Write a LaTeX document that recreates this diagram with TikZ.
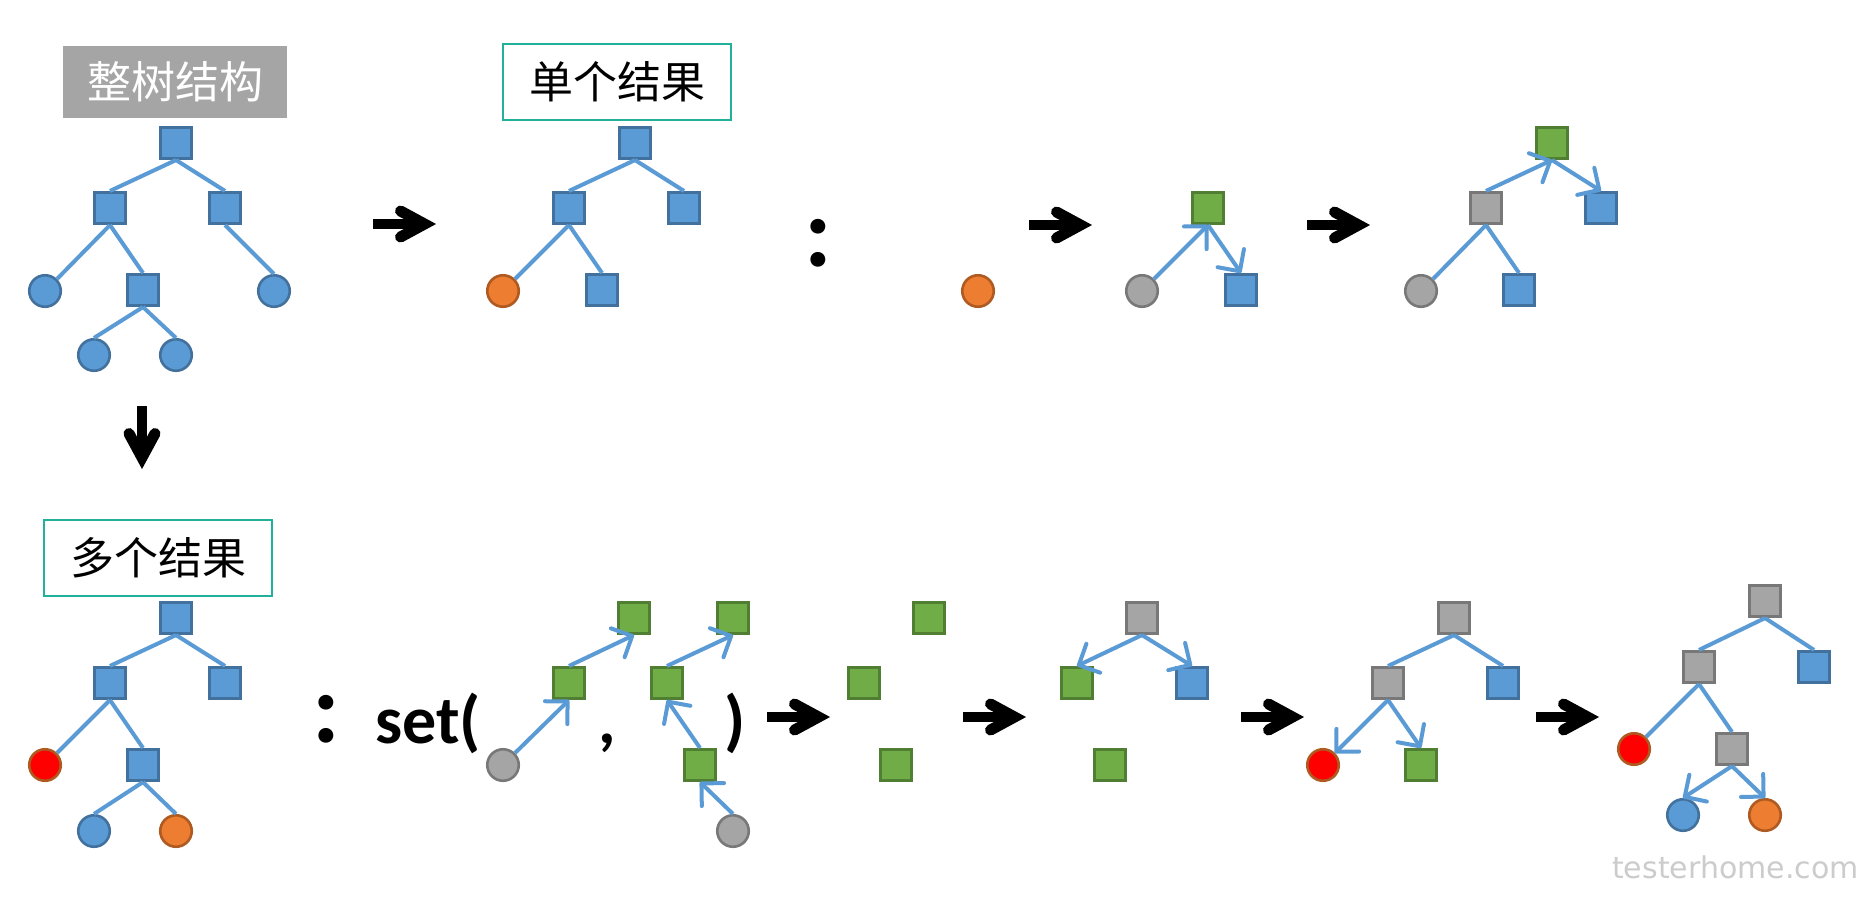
\documentclass[tikz,border=0pt]{standalone}
\usepackage{fontspec}
\newfontfamily\cjk{Noto Sans CJK SC}
\newfontfamily\carlito{Carlito}
\newfontfamily\wmfont{DejaVu Sans}
\usetikzlibrary{arrows.meta}
\definecolor{cBlue}{HTML}{5B9BD5}
\definecolor{cBlueD}{HTML}{41719C}
\definecolor{cGreen}{HTML}{70AD47}
\definecolor{cGreenD}{HTML}{507E32}
\definecolor{cGray}{HTML}{A5A5A5}
\definecolor{cGrayD}{HTML}{787878}
\definecolor{cOrange}{HTML}{ED7D31}
\definecolor{cOrangeD}{HTML}{AE5A21}
\definecolor{cRed}{HTML}{FF0000}
\definecolor{cLine}{HTML}{5B9BD5}
\definecolor{cLab}{HTML}{A5A5A5}
\definecolor{cTeal}{HTML}{21B19B}
\definecolor{cWm}{HTML}{CCCCCC}
\begin{document}
\begin{tikzpicture}[x=1pt,y=-1pt,
  sq/.style={draw, rectangle, minimum size=31.5pt, inner sep=0pt, line width=2.6pt},
  ci/.style={draw, circle, minimum size=31.5pt, inner sep=0pt, line width=2.6pt},
  bn/.style={fill=cBlue, draw=cBlueD},
  gn/.style={fill=cGreen, draw=cGreenD},
  yn/.style={fill=cGray, draw=cGrayD},
  on/.style={fill=cOrange, draw=cOrangeD},
  rn/.style={fill=cRed, draw=cOrangeD},
  lnk/.style={draw=cLine, line width=4pt},
  dlnk/.style={lnk, -{Straight Barb[length=16pt,width=32pt,round]}},
  labbox/.style={minimum width=228pt, minimum height=76pt, inner sep=0pt, font=\cjk\fontsize{44}{44}\selectfont},
  bigarr/.pic={
    \fill (-64,-5) rectangle (-16,5);
    \draw[line width=11pt, line cap=round, line join=miter, miter limit=10] (-36.5,-13) -- (-12.5,0) -- (-36.5,13);
  },
  colon/.style={font=\carlito\bfseries\fontsize{100}{100}\selectfont, inner sep=0pt, anchor=base},
  settext/.style={font=\carlito\bfseries\fontsize{68}{68}\selectfont, inner sep=0pt, anchor=base}
]
\useasboundingbox (0,0) rectangle (1866,906);
\fill[white] (0,0) rectangle (1866,906);

% ---------- labels ----------
\node[labbox, fill=cLab, text=white, minimum width=224pt, minimum height=72pt] (lab1) at (175,82) {整树结构};
\node[labbox, draw=cTeal, line width=2pt] (lab2) at (617,82) {单个结果};
\node[labbox, draw=cTeal, line width=2pt] (lab3) at (158,557.5) {多个结果};

% ---------- panel 1: whole tree ----------
\node[sq,bn] (t1a) at (176,143) {};
\node[sq,bn] (t1b) at (110,208) {};
\node[sq,bn] (t1c) at (225,208) {};
\node[ci,bn] (t1d) at (45,291) {};
\node[sq,bn] (t1e) at (143,290) {};
\node[ci,bn] (t1f) at (274,291) {};
\node[ci,bn] (t1g) at (94,355) {};
\node[ci,bn] (t1h) at (176,355) {};
\draw[lnk] (t1a.south) -- (t1b.north);
\draw[lnk] (t1a.south) -- (t1c.north);
\draw[lnk] (t1b.south) -- (t1d.north east);
\draw[lnk] (t1b.south) -- (t1e.north);
\draw[lnk] (t1c.south) -- (t1f.north);
\draw[lnk] (t1e.south) -- (t1g.north);
\draw[lnk] (t1e.south) -- (t1h.north);

% ---------- panel 2: single result ----------
\node[sq,bn] (t2a) at (635,143) {};
\node[sq,bn] (t2b) at (569,208) {};
\node[sq,bn] (t2c) at (684,208) {};
\node[ci,on] (t2d) at (503,291) {};
\node[sq,bn] (t2e) at (602,290) {};
\draw[lnk] (t2a.south) -- (t2b.north);
\draw[lnk] (t2a.south) -- (t2c.north);
\draw[lnk] (t2b.south) -- (t2d.north east);
\draw[lnk] (t2b.south) -- (t2e.north);

\node[colon] (col1) at (818,266) {:};

% ---------- panel 3: steps ----------
\node[ci,on] (t3a) at (978,291) {};
\node[ci,yn] (t4a) at (1142,291) {};
\node[sq,gn] (t4b) at (1208,208) {};
\node[sq,bn] (t4c) at (1241,290) {};
\draw[dlnk] (t4a.north east) -- (t4b.south);
\draw[dlnk] (t4b.south) -- (t4c.north);

\node[sq,gn] (t5a) at (1552,143) {};
\node[sq,yn] (t5b) at (1486,208) {};
\node[sq,bn] (t5c) at (1601,208) {};
\node[ci,yn] (t5d) at (1421,291) {};
\node[sq,bn] (t5e) at (1519,290) {};
\draw[dlnk] (t5b.north) -- (t5a.south);
\draw[dlnk] (t5a.south) -- (t5c.north);
\draw[lnk] (t5b.south) -- (t5d.north east);
\draw[lnk] (t5b.south) -- (t5e.north);

% ---------- big arrows, top row ----------
\pic at (437,224) {bigarr};
\pic at (1093,225) {bigarr};
\pic at (1371,225) {bigarr};
\pic[rotate=-90] at (142,470) {bigarr};

% ---------- panel 4: multiple results ----------
\node[sq,bn] (m1a) at (176,618) {};
\node[sq,bn] (m1b) at (110,683) {};
\node[sq,bn] (m1c) at (225,683) {};
\node[ci,rn] (m1d) at (45,765) {};
\node[sq,bn] (m1e) at (143,765) {};
\node[ci,bn] (m1f) at (94,831) {};
\node[ci,on] (m1g) at (176,831) {};
\draw[lnk] (m1a.south) -- (m1b.north);
\draw[lnk] (m1a.south) -- (m1c.north);
\draw[lnk] (m1b.south) -- (m1d.north east);
\draw[lnk] (m1b.south) -- (m1e.north);
\draw[lnk] (m1e.south) -- (m1f.north);
\draw[lnk] (m1e.south) -- (m1g.north);

\node[colon] (col2) at (326,742) {:};
\node[settext, anchor=base west] (set) at (375,743) {set(};
\node[settext] (comma) at (607,743) {,};
\node[settext] (rpar) at (735,743) {)};

% set contents
\node[ci,yn] (s1a) at (503,765) {};
\node[sq,gn] (s1b) at (569,683) {};
\node[sq,gn] (s1c) at (634,618) {};
\draw[dlnk] (s1a.north east) -- (s1b.south);
\draw[dlnk] (s1b.north) -- (s1c.south);

\node[sq,gn] (s2b) at (667,683) {};
\node[sq,gn] (s2c) at (733,618) {};
\node[sq,gn] (s2d) at (700,765) {};
\node[ci,yn] (s2a) at (733,831) {};
\draw[dlnk] (s2a.north) -- (s2d.south);
\draw[dlnk] (s2d.north) -- (s2b.south);
\draw[dlnk] (s2b.north) -- (s2c.south);

% green squares
\node[sq,gn] (g1) at (929,618) {};
\node[sq,gn] (g2) at (864,683) {};
\node[sq,gn] (g3) at (896,765) {};

% gray-top tree
\node[sq,yn] (h1) at (1142,618) {};
\node[sq,gn] (h2) at (1077,683) {};
\node[sq,bn] (h3) at (1192,683) {};
\node[sq,gn] (h4) at (1110,765) {};
\draw[dlnk] (h1.south) -- (h2.north);
\draw[dlnk] (h1.south) -- (h3.north);

% red tree
\node[sq,yn] (k1) at (1454,618) {};
\node[sq,yn] (k2) at (1388,683) {};
\node[sq,bn] (k3) at (1503,683) {};
\node[ci,rn] (k4) at (1323,765) {};
\node[sq,gn] (k5) at (1421,765) {};
\draw[lnk] (k1.south) -- (k2.north);
\draw[lnk] (k1.south) -- (k3.north);
\draw[dlnk] (k2.south) -- (k4.north east);
\draw[dlnk] (k2.south) -- (k5.north);

% final tree
\node[sq,yn] (f1) at (1765,601) {};
\node[sq,yn] (f2) at (1699,667) {};
\node[sq,bn] (f3) at (1814,667) {};
\node[ci,rn] (f4) at (1634,749) {};
\node[sq,yn] (f5) at (1732,749) {};
\node[ci,bn] (f6) at (1683,815) {};
\node[ci,on] (f7) at (1765,815) {};
\draw[lnk] (f1.south) -- (f2.north);
\draw[lnk] (f1.south) -- (f3.north);
\draw[lnk] (f2.south) -- (f4.north east);
\draw[lnk] (f2.south) -- (f5.north);
\draw[dlnk] (f5.south) -- (f6.north);
\draw[dlnk] (f5.south) -- (f7.north);

% big arrows, bottom row
\pic at (831,717) {bigarr};
\pic at (1027,717) {bigarr};
\pic at (1305,717) {bigarr};
\pic at (1600,717) {bigarr};

% watermark
\node[anchor=base west, inner sep=0pt, text=cWm, font=\wmfont\fontsize{30}{30}\selectfont] (wm) at (1612,878) {testerhome.com};
\end{tikzpicture}
\end{document}
